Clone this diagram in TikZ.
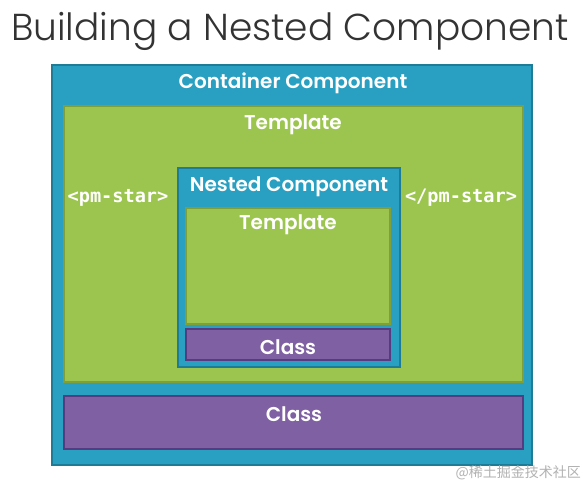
\documentclass[tikz,border=0pt]{standalone}
\usepackage{fontspec}
\newfontfamily\titlefont{Poppins Light}
\newfontfamily\boxfont{Poppins SemiBold}
\newfontfamily\monofont{DejaVu Sans Mono Bold}
\newfontfamily\cjk{Noto Sans CJK SC}
\definecolor{cblue}{HTML}{29A0C1}
\definecolor{cblueb}{HTML}{1E7C96}
\definecolor{cgreen}{HTML}{9CC54F}
\definecolor{cgreenb}{HTML}{7E9F3A}
\definecolor{cpurple}{HTML}{7E60A3}
\definecolor{cpurpleb}{HTML}{553C80}
\tikzset{
  panel/.style={draw, line width=1.5pt, inner sep=0pt, outer sep=0pt},
  bluebox/.style={panel, fill=cblue, draw=cblueb},
  greenbox/.style={panel, fill=cgreen, draw=cgreenb},
  purplebox/.style={panel, fill=cpurple, draw=cpurpleb},
  lbl/.style={text=white, font=\boxfont\fontsize{20}{24}\selectfont, inner sep=0pt},
  mono/.style={text=white, font=\monofont\fontsize{18.6}{22}\selectfont, inner sep=0pt},
}
\begin{document}
\begin{tikzpicture}[x=1pt,y=-1pt]
\useasboundingbox[fill=white] (0,0) rectangle (583,482);
\node[anchor=base west, inner sep=0pt, text=black!80, font=\titlefont\fontsize{37.5}{44}\selectfont] (title) at (11,40) {Building a Nested Component};
% outer container
\node[bluebox, minimum width=480pt, minimum height=400pt] (outer) at (292,265) {};
\node[lbl] (outerlbl) at (293,83) {Container Component};
% template
\node[greenbox, minimum width=459pt, minimum height=276pt] (tmpl) at (293.5,244) {};
\node[lbl] (tmpllbl) at (293,125) {Template};
\node[mono] (open) at (118,198) {<pm-star>};
\node[mono] (close) at (461,198) {</pm-star>};
% nested component
\node[bluebox, minimum width=222pt, minimum height=199pt] (nested) at (289,267.5) {};
\node[lbl] (nestedlbl) at (289,187) {Nested Component};
\node[greenbox, minimum width=204pt, minimum height=116pt] (itmpl) at (288,266) {};
\node[lbl] (itmpllbl) at (288,225) {Template};
\node[purplebox, minimum width=204pt, minimum height=31pt] (icls) at (288,344.5) {};
\node[lbl] (icllbl) at (288,347) {Class};
% bottom class
\node[purplebox, minimum width=459pt, minimum height=53pt] (cls) at (293.5,422.5) {};
\node[lbl] (clslbl) at (294,414) {Class};
% watermark
\node[anchor=base east, inner sep=0pt, text=black!30, font=\cjk\fontsize{14}{16}\selectfont] (wm) at (581,477) {@稀土掘金技术社区};
\end{tikzpicture}
\end{document}
